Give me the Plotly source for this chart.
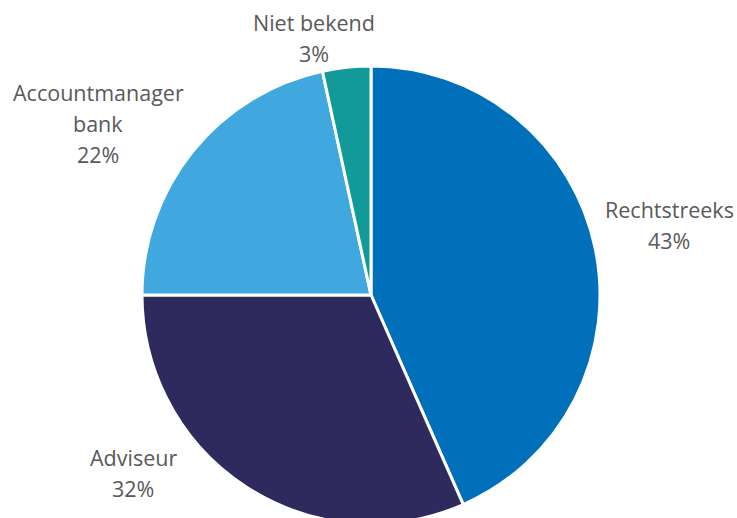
import plotly.graph_objects as go

labels = ["Rechtstreeks", "Adviseur", "Accountmanager<br>bank", "Niet bekend"]
values = [43.4, 31.6, 21.6, 3.4]
colors = ["#0070BA", "#2E2A5E", "#41A7DF", "#129A9A"]

# label anchor positions (pixels, centre of first line) and pie geometry
W, H = 737, 524
L, R, T, B = 142, 137, 66, 0
label_px = [(669, 210), (133, 457), (98, 93), (314, 23)]
line_gap = 31

fig = go.Figure(go.Pie(
    labels=labels, values=values, sort=False, direction="clockwise", rotation=0,
    marker=dict(colors=colors, line=dict(color="white", width=3)),
    textinfo="none", hoverinfo="label+percent", showlegend=False,
))

pw, ph = W - L - R, H - T - B
anns = []
for lab, val, (px, py) in zip(labels, values, label_px):
    lines = lab.split("<br>") + [f"{round(val)}%"]
    for i, line in enumerate(lines):
        y = py + i * line_gap
        anns.append(dict(
            text=line, xref="paper", yref="paper",
            x=(px - L) / pw, y=(H - B - y) / ph,
            xanchor="center", yanchor="middle", showarrow=False,
            font=dict(family="Open Sans", size=21.5, color="#595959"),
        ))

fig.update_layout(
    width=W, height=H, margin=dict(l=L, r=R, t=T, b=B, autoexpand=False),
    paper_bgcolor="white", plot_bgcolor="white", annotations=anns,
)
fig.write_html("out.html")
